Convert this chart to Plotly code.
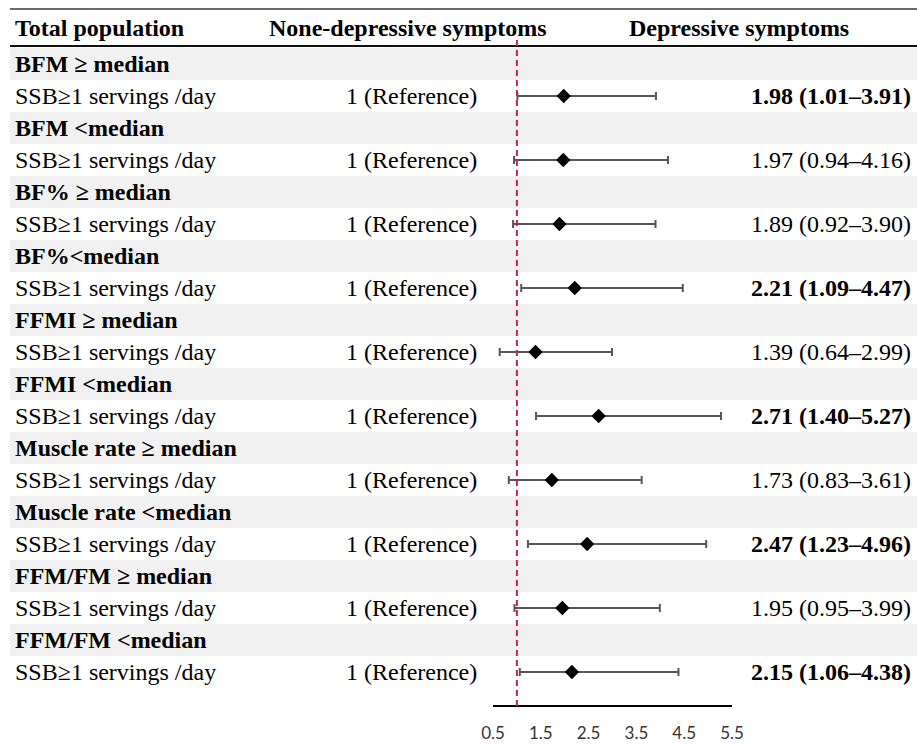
import plotly.graph_objects as go

# ---- data ----
groups = ["BFM \u2265 median", "BFM <median", "BF% \u2265 median", "BF%<median",
          "FFMI \u2265 median", "FFMI <median", "Muscle rate \u2265 median",
          "Muscle rate <median", "FFM/FM \u2265 median", "FFM/FM <median"]
exposure = "SSB\u22651 servings /day"
reference_text = "1 (Reference)"
hr = [1.98, 1.97, 1.89, 2.21, 1.39, 2.71, 1.73, 2.47, 1.95, 2.15]
lo = [1.01, 0.94, 0.92, 1.09, 0.64, 1.40, 0.83, 1.23, 0.95, 1.06]
hi = [3.91, 4.16, 3.90, 4.47, 2.99, 5.27, 3.61, 4.96, 3.99, 4.38]
significant = [True, False, False, True, False, True, False, True, False, True]
tick_vals = [0.5, 1.5, 2.5, 3.5, 4.5, 5.5]
headers = ["Total population", "None-depressive symptoms", "Depressive symptoms"]

W, H = 917, 746
SERIF = "Liberation Serif, Times New Roman, serif"
FS = 24

group_rows = [2 * i for i in range(len(groups))]
data_rows = [2 * i + 1 for i in range(len(groups))]

fig = go.Figure()

fig.add_trace(go.Scatter(
    x=hr, y=data_rows, mode="markers",
    marker=dict(symbol="diamond", size=11, color="black"),
    error_x=dict(type="data", symmetric=False,
                 array=[h - m for h, m in zip(hi, hr)],
                 arrayminus=[m - l for m, l in zip(hr, lo)],
                 color="#575757", thickness=2, width=4),
    showlegend=False, hoverinfo="skip", cliponaxis=False,
))

shapes = []
# gray bands for group label rows
for r in group_rows:
    shapes.append(dict(type="rect", xref="paper", yref="y", x0=10 / W, x1=1,
                       y0=r - 0.5, y1=r + 0.5, fillcolor="#f1f1f1",
                       line=dict(width=0), layer="below"))
# top rule and header rule
shapes.append(dict(type="line", xref="paper", yref="y", x0=10 / W, x1=1,
                   y0=-1.72, y1=-1.72, line=dict(color="#6a6a6a", width=2)))
shapes.append(dict(type="line", xref="paper", yref="y", x0=10 / W, x1=1,
                   y0=-0.56, y1=-0.56, line=dict(color="#111111", width=2)))
# reference line at HR = 1
shapes.append(dict(type="line", xref="x", yref="y", x0=1, x1=1,
                   y0=-0.75, y1=20.06,
                   line=dict(color="#c0245a", width=2, dash="6px,4px")))

ann = []
hdr_y = -1.12
ann.append(dict(text="<b>%s</b>" % headers[0], x=13 / W, xanchor="left"))
ann.append(dict(text="<b>%s</b>" % headers[1], x=408 / W, xanchor="center"))
ann.append(dict(text="<b>%s</b>" % headers[2], x=739 / W, xanchor="center"))
for a in ann:
    a.update(y=hdr_y)

for i, g in enumerate(groups):
    ann.append(dict(text="<b>%s</b>" % g, x=13 / W, xanchor="left", y=group_rows[i]))
    ann.append(dict(text=exposure, x=13 / W, xanchor="left", y=data_rows[i]))
    ann.append(dict(text=reference_text, x=479 / W, xanchor="right", y=data_rows[i]))
    s = "%.2f (%.2f\u2013%.2f)" % (hr[i], lo[i], hi[i])
    if significant[i]:
        s = "<b>%s</b>" % s
    ann.append(dict(text=s, x=913 / W, xanchor="right", y=data_rows[i]))

for a in ann:
    a.update(xref="paper", yref="y", yanchor="middle", showarrow=False,
             font=dict(family=SERIF, size=FS, color="black"))

fig.update_layout(
    width=W, height=H,
    margin=dict(l=0, r=0, t=0, b=0, autoexpand=False),
    paper_bgcolor="white", plot_bgcolor="rgba(0,0,0,0)",
    shapes=shapes, annotations=ann,
    xaxis=dict(domain=[493 / W, 732 / W], range=[0.5, 5.5],
               anchor="free", position=1 - 706 / H, automargin=False,
               tickvals=tick_vals, ticktext=["%.1f" % v for v in tick_vals],
               showline=True, linecolor="black", linewidth=2,
               showgrid=False, zeroline=False, ticks="",
               ticklabelstandoff=12,
               tickfont=dict(family="Lato, Calibri, sans-serif", size=17, color="#333333")),
    yaxis=dict(domain=[0, 1], range=[(H - 64) / 32, -64 / 32], automargin=False,
               visible=False, showgrid=False, zeroline=False),
)

fig.write_html("out.html")
